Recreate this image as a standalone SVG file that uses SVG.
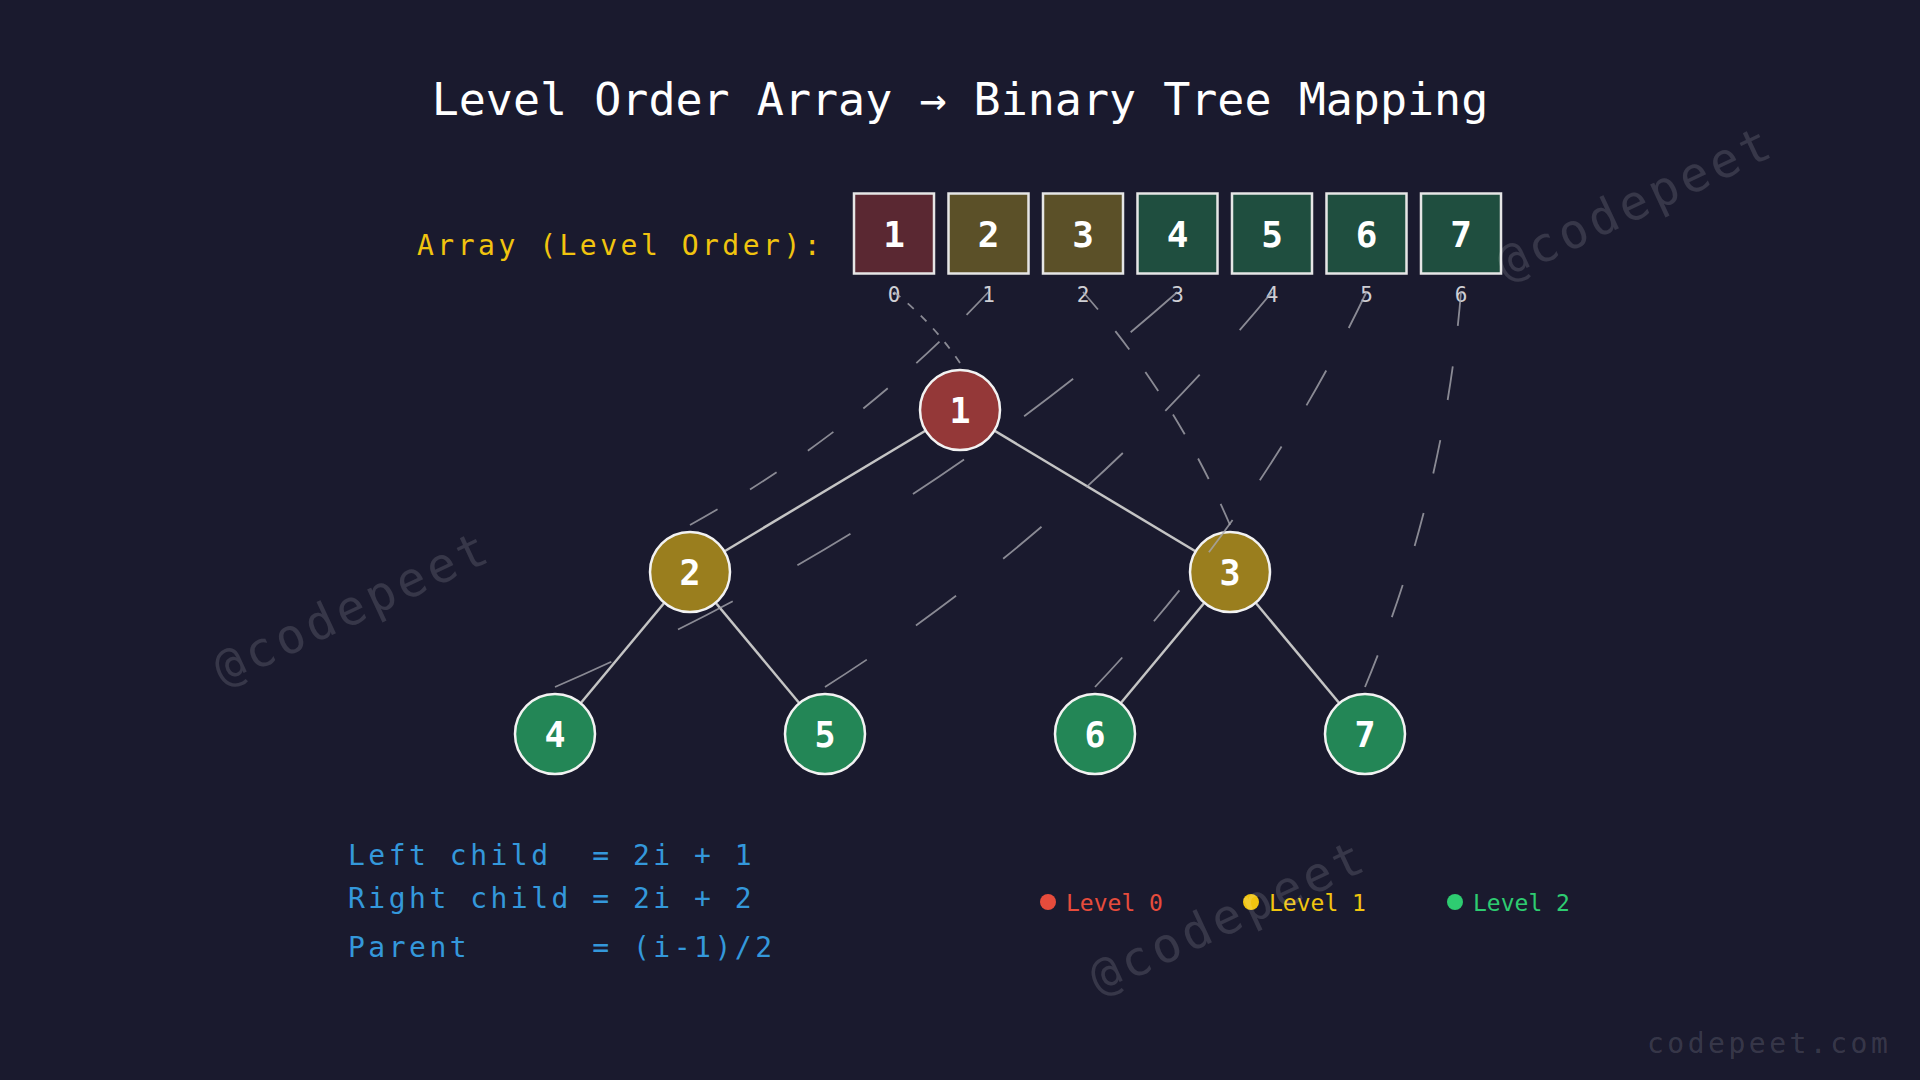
<svg xmlns="http://www.w3.org/2000/svg" width="1920" height="1080" viewBox="0 0 1920 1080">
<defs>
<style>
.mono{font-family:"DejaVu Sans Mono","Liberation Mono",monospace}
.title{font-size:45px;fill:#ffffff}
.arrlabel{font-size:28px;letter-spacing:3.5px;fill:#f1c40f}
.boxnum{font-size:36px;font-weight:bold;fill:#ffffff}
.idx{font-size:21px;fill:#cfcfd4}
.cell{stroke:#e6e6e6;stroke-width:2.5}
.node circle{stroke:#f2f2f2;stroke-width:2.5}
.nodetxt{font-size:35px;font-weight:bold;fill:#ffffff}
.edge{stroke:#c4c4c4;stroke-width:2.5;fill:none}
.map{stroke:#a6a6ae;stroke-width:1.8;fill:none;stroke-dasharray:5 6;opacity:0.8}
.formula{font-size:28px;letter-spacing:3.5px;fill:#3498db}
.legend{font-size:23px}
.wm{font-size:48px;letter-spacing:4.5px;fill:#ffffff;fill-opacity:0.13}
.site{font-size:28px;letter-spacing:3.5px;fill:#ffffff;fill-opacity:0.14}
</style>
</defs>
<rect width="1920" height="1080" fill="#1a1a2e"/>

<g id="title"><text x="960" y="115" text-anchor="middle" class="mono title">Level Order Array → Binary Tree Mapping</text></g>

<g id="array-label"><text x="417" y="255" class="mono arrlabel">Array (Level Order):</text></g>

<g id="cell-0"><rect x="854" y="193.5" width="80" height="80" fill="#5a2832" class="cell"/><text x="894" y="246.5" text-anchor="middle" class="mono boxnum">1</text><text x="894" y="302" text-anchor="middle" class="mono idx">0</text></g>
<g id="cell-1"><rect x="948.5" y="193.5" width="80" height="80" fill="#5b5028" class="cell"/><text x="988.5" y="246.5" text-anchor="middle" class="mono boxnum">2</text><text x="988.5" y="302" text-anchor="middle" class="mono idx">1</text></g>
<g id="cell-2"><rect x="1043" y="193.5" width="80" height="80" fill="#5b5028" class="cell"/><text x="1083" y="246.5" text-anchor="middle" class="mono boxnum">3</text><text x="1083" y="302" text-anchor="middle" class="mono idx">2</text></g>
<g id="cell-3"><rect x="1137.5" y="193.5" width="80" height="80" fill="#1f4e3f" class="cell"/><text x="1177.5" y="246.5" text-anchor="middle" class="mono boxnum">4</text><text x="1177.5" y="302" text-anchor="middle" class="mono idx">3</text></g>
<g id="cell-4"><rect x="1232" y="193.5" width="80" height="80" fill="#1f4e3f" class="cell"/><text x="1272" y="246.5" text-anchor="middle" class="mono boxnum">5</text><text x="1272" y="302" text-anchor="middle" class="mono idx">4</text></g>
<g id="cell-5"><rect x="1326.5" y="193.5" width="80" height="80" fill="#1f4e3f" class="cell"/><text x="1366.5" y="246.5" text-anchor="middle" class="mono boxnum">6</text><text x="1366.5" y="302" text-anchor="middle" class="mono idx">5</text></g>
<g id="cell-6"><rect x="1421" y="193.5" width="80" height="80" fill="#1f4e3f" class="cell"/><text x="1461" y="246.5" text-anchor="middle" class="mono boxnum">7</text><text x="1461" y="302" text-anchor="middle" class="mono idx">6</text></g>

<g id="tree-edges">
<line x1="960" y1="410" x2="690" y2="572" class="edge"/>
<line x1="960" y1="410" x2="1230" y2="572" class="edge"/>
<line x1="690" y1="572" x2="555" y2="734" class="edge"/>
<line x1="690" y1="572" x2="825" y2="734" class="edge"/>
<line x1="1230" y1="572" x2="1095" y2="734" class="edge"/>
<line x1="1230" y1="572" x2="1365" y2="734" class="edge"/>
</g>

<g id="node-1" class="node"><circle cx="960" cy="410" r="40" fill="#943838"/><text x="960" y="423" text-anchor="middle" class="mono nodetxt">1</text></g>
<g id="node-2" class="node"><circle cx="690" cy="572" r="40" fill="#9a7e1e"/><text x="690" y="585" text-anchor="middle" class="mono nodetxt">2</text></g>
<g id="node-3" class="node"><circle cx="1230" cy="572" r="40" fill="#9a7e1e"/><text x="1230" y="585" text-anchor="middle" class="mono nodetxt">3</text></g>
<g id="node-4" class="node"><circle cx="555" cy="734" r="40" fill="#238656"/><text x="555" y="747" text-anchor="middle" class="mono nodetxt">4</text></g>
<g id="node-5" class="node"><circle cx="825" cy="734" r="40" fill="#238656"/><text x="825" y="747" text-anchor="middle" class="mono nodetxt">5</text></g>
<g id="node-6" class="node"><circle cx="1095" cy="734" r="40" fill="#238656"/><text x="1095" y="747" text-anchor="middle" class="mono nodetxt">6</text></g>
<g id="node-7" class="node"><circle cx="1365" cy="734" r="40" fill="#238656"/><text x="1365" y="747" text-anchor="middle" class="mono nodetxt">7</text></g>

<g id="mapping-connectors">
<path d="M894 292 Q932.6 322.3 960 363" pathLength="60" class="map"/>
<path d="M988.5 292 Q857.7 432.1 690 525" pathLength="60" class="map"/>
<path d="M1083 292 Q1174.9 396.9 1230 525" pathLength="60" class="map"/>
<path d="M1177.5 292 Q897.5 538.7 555 687" pathLength="60" class="map"/>
<path d="M1272 292 Q1079.7 524.8 825 687" pathLength="60" class="map"/>
<path d="M1366.5 292 Q1262 510.9 1095 687" pathLength="60" class="map"/>
<path d="M1461 292 Q1444.2 497.1 1365 687" pathLength="60" class="map"/>
</g>

<g id="formulas">
<text x="348" y="865" xml:space="preserve" class="mono formula">Left child  = 2i + 1</text>
<text x="348" y="908" xml:space="preserve" class="mono formula">Right child = 2i + 2</text>
<text x="348" y="957" xml:space="preserve" class="mono formula">Parent      = (i-1)/2</text>
</g>

<g id="legend">
<circle cx="1048" cy="902" r="8" fill="#e74c3c"/><text x="1066" y="910.5" class="mono legend" fill="#e74c3c">Level 0</text>
<circle cx="1251" cy="902" r="8" fill="#f1c40f"/><text x="1269" y="910.5" class="mono legend" fill="#f1c40f">Level 1</text>
<circle cx="1455" cy="902" r="8" fill="#2ecc71"/><text x="1473" y="910.5" class="mono legend" fill="#2ecc71">Level 2</text>
</g>

<g id="watermarks">
<text x="352" y="607" text-anchor="middle" dominant-baseline="central" transform="rotate(-25 352 607)" class="mono wm">@codepeet</text>
<text x="1635" y="202" text-anchor="middle" dominant-baseline="central" transform="rotate(-25 1635 202)" class="mono wm">@codepeet</text>
<text x="1228" y="916" text-anchor="middle" dominant-baseline="central" transform="rotate(-25 1228 916)" class="mono wm">@codepeet</text>
<text x="1647" y="1053" class="mono site">codepeet.com</text>
</g>
</svg>
